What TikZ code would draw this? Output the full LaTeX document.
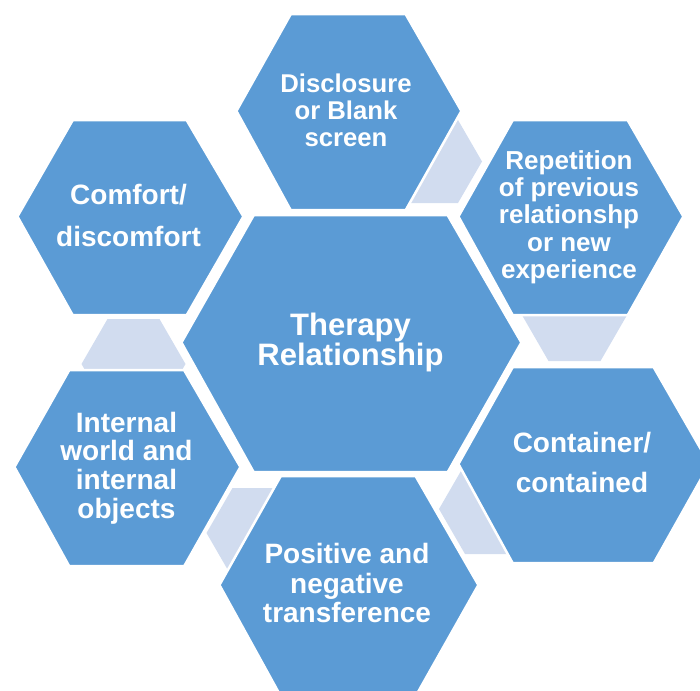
\documentclass[tikz,border=0pt]{standalone}
\usepackage{fontspec}
\setmainfont{Liberation Sans}
\usepackage{tikz}
\usetikzlibrary{positioning}

\definecolor{hexblue}{RGB}{91,155,213}
\definecolor{jointgray}{RGB}{209,220,239}

% centre x, centre y, half width, half top edge, half height
\newcommand{\hexpath}[5]{(#1-#3,#2) -- (#1-#4,#2-#5) -- (#1+#4,#2-#5) -- (#1+#3,#2) -- (#1+#4,#2+#5) -- (#1-#4,#2+#5) -- cycle}
% same, grown a little so the white border sits outside the blue
\newcommand{\cellpath}[5]{\hexpath{#1}{#2}{#3+1.4}{#4+0.7}{#5+1.2}}

\begin{document}
\begin{tikzpicture}[x=1pt,y=-1pt,
                    hexcell/.style={fill=hexblue, draw=white, line width=2.5pt},
                    joint/.style={fill=jointgray},
                    lbl/.style 2 args={text=white, align=center, inner sep=0pt,
                                       font=\bfseries\fontsize{#1}{#2}\selectfont}]
    \useasboundingbox (0,0) rectangle (700,690);
    \clip (0,0) rectangle (700,690);

    % light joints behind the cells
    \fill[joint] \hexpath{434}{161.5}{48}{24}{41.5};
    \fill[joint] \hexpath{574.5}{316}{52}{26}{45};
    \fill[joint] \hexpath{491}{509}{52}{26}{45};
    \fill[joint] \hexpath{258.5}{533}{52}{26}{45};
    \fill[joint] \hexpath{133.5}{364}{52}{26}{45};

    % outer cells
    \draw[hexcell] \cellpath{347.5}{111}{112.5}{57.5}{98};
    \draw[hexcell] \cellpath{569.5}{216.5}{112.5}{57.5}{97.5};
    \draw[hexcell] \cellpath{582.5}{464}{125.5}{70.5}{98};
    \draw[hexcell] \cellpath{347.5}{585}{129.5}{67.5}{110};
    \draw[hexcell] \cellpath{126}{467}{113}{57.5}{98};
    \draw[hexcell] \cellpath{129}{216.5}{113}{57}{97.5};

    % centre cell
    \draw[hexcell] \cellpath{350}{342.5}{170}{97}{128.5};

    \node (ther) [lbl={31pt}{30pt}] at (350.5,342) {Therapy\\Relationship};
    \node (disc) [lbl={25.7pt}{27pt}] at (346,110) {Disclosure\\or Blank\\screen};
    \node (rep)  [lbl={26pt}{27.3pt}] at (569,217) {Repetition\\of previous\\relationshp\\or new\\experience};
    \node (cont) [lbl={28pt}{40pt}] at (582,462) {Container/\\contained};
    \node (posi) [lbl={28pt}{29.5pt}] at (347,583) {Positive and\\negative\\transference};
    \node (intl) [lbl={28pt}{28.7pt}] at (126.5,468) {Internal\\world and\\internal\\objects};
    \node (comf) [lbl={28pt}{42pt}] at (128.5,215) {Comfort/\\discomfort};
\end{tikzpicture}
\end{document}
